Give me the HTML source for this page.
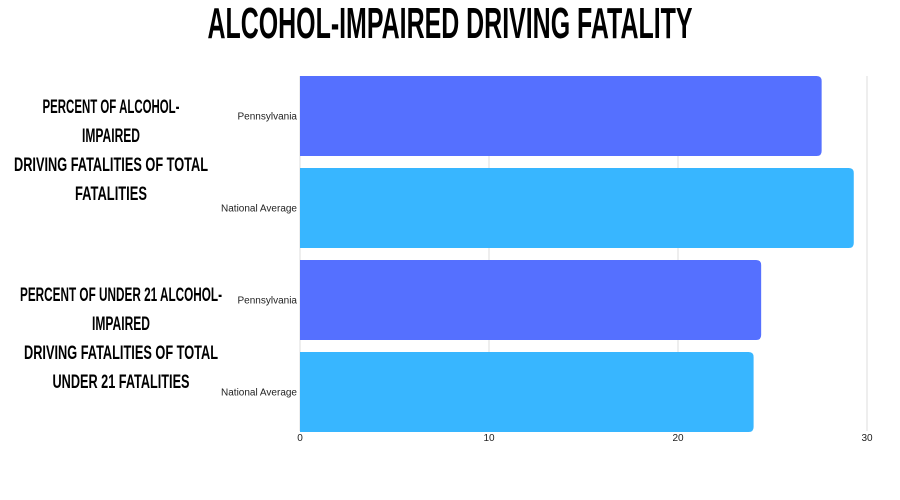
<!DOCTYPE html>
<html><head><meta charset="utf-8"><style>
html,body{margin:0;padding:0;background:#fff;}
svg{display:block;font-family:"Liberation Sans",sans-serif;}
.hd{font-family:"Liberation Sans Narrow","Liberation Sans",sans-serif;font-weight:bold;fill:#000;}
</style></head><body>
<svg id="chart" width="900" height="500">
<text class="hd" x="450" y="38" font-size="44" text-anchor="middle" textLength="485" lengthAdjust="spacingAndGlyphs">ALCOHOL-IMPAIRED DRIVING FATALITY</text>
<g id="grid"></g>
<g id="bars"></g>
<g id="labels"></g>
</svg>
<script>
const categories = ["Pennsylvania","National Average","Pennsylvania","National Average"];
const values = [27.6, 29.3, 24.4, 24.0];
const ticks = [0, 10, 20, 30];
const groupLines = [
  ["PERCENT OF ALCOHOL-","IMPAIRED","DRIVING FATALITIES OF TOTAL","FATALITIES"],
  ["PERCENT OF UNDER 21 ALCOHOL-","IMPAIRED","DRIVING FATALITIES OF TOTAL","UNDER 21 FATALITIES"]
];
const NS="http://www.w3.org/2000/svg";
const x0=300, x1=867, plotTop=76, plotBottom=431, maxV=30;
const xs=v=>x0+(v/maxV)*(x1-x0);
const band=92, barH=80;
const colors=["#5570ff","#38b6ff"];
function mk(tag,attrs,parent){const e=document.createElementNS(NS,tag);for(const k in attrs)e.setAttribute(k,attrs[k]);parent.appendChild(e);return e;}
const grid=document.getElementById('grid'), bars=document.getElementById('bars'), labels=document.getElementById('labels');
ticks.forEach((t,i)=>{
  const l=mk('line',{x1:xs(t),x2:xs(t),y1:plotTop,y2:plotBottom,stroke:'#dcdcdc','stroke-width':1},grid);
  
  
  const tx=mk('text',{x:xs(t),y:441,'font-size':10,'text-anchor':'middle',fill:'#222'},labels);
  tx.textContent=t;
  
  
});
categories.forEach((c,i)=>{
  const y=plotTop+i*band, h=barH, w=xs(values[i])-x0, r=5;
  const p=mk('path',{d:`M${x0},${y}H${x0+w-r}Q${x0+w},${y} ${x0+w},${y+r}V${y+h-r}Q${x0+w},${y+h} ${x0+w-r},${y+h}H${x0}Z`,fill:colors[i%2]},bars);
  
  
  const t=mk('text',{x:297,y:y+h/2+3.5,'font-size':10,'text-anchor':'end',fill:'#222'},labels);
  t.textContent=c;
  
  
});
const groupCenters=[[111,106],[121,294]];
groupLines.forEach((lines,g)=>{
  lines.forEach((s,j)=>{
    const t=mk('text',{x:groupCenters[g][0],y:groupCenters[g][1]+j*29+7,'font-size':19,'text-anchor':'middle',class:'hd',textLength:Math.round(s.length*7.2),lengthAdjust:'spacingAndGlyphs'},labels);
    t.textContent=s;
    
    
  });
});
</script>
</body></html>
